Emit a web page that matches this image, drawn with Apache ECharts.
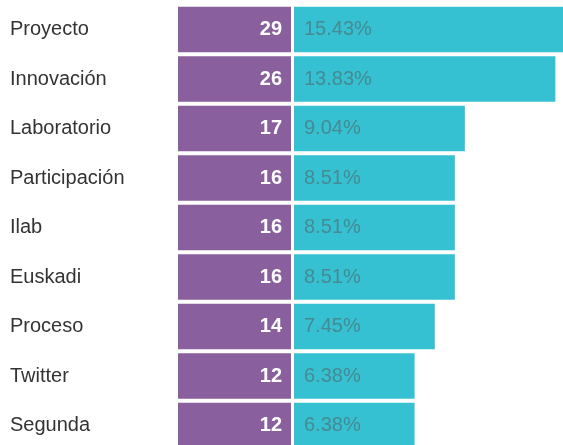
<!DOCTYPE html>
<html>
<head>
<meta charset="utf-8">
<script src="https://cdn.jsdelivr.net/npm/echarts@6/dist/echarts.min.js"></script>
<style>
  html, body { margin: 0; padding: 0; background: #fff; }
  #chart { width: 563px; height: 445px; }
</style>
</head>
<body>
<div id="chart"></div>
<script>
// palabras más frecuentes
const words = ['Proyecto', 'Innovación', 'Laboratorio', 'Participación', 'Ilab', 'Euskadi', 'Proceso', 'Twitter', 'Segunda'];
const counts = [29, 26, 17, 16, 16, 16, 14, 12, 12];
const percents = [15.43, 13.83, 9.04, 8.51, 8.51, 8.51, 7.45, 6.38, 6.38];

const PURPLE = '#8a5f9d';
const CYAN = '#36c1d3';
const FONT = '"Liberation Sans", Arial, sans-serif';

const chart = echarts.init(document.getElementById('chart'), null, { renderer: 'canvas' });

const rowTop = 4.75;
const rowH = 49.5 * words.length;

const option = {
  backgroundColor: '#fff',
  animation: false,
  grid: [
    // columna de conteos
    { left: 178, width: 113, top: rowTop, height: rowH, outerBoundsMode: 'none' },
    // columna de porcentajes (sale del lienzo por la derecha)
    { left: 294, width: 302.4, top: rowTop, height: rowH, outerBoundsMode: 'none' }
  ],
  xAxis: [
    { gridIndex: 0, type: 'value', min: 0, max: 1, show: false },
    { gridIndex: 1, type: 'value', min: 0, max: 16, show: false }
  ],
  yAxis: [
    {
      gridIndex: 0,
      type: 'category',
      data: words,
      inverse: true,
      axisLine: { show: false },
      axisTick: { show: false },
      axisLabel: {
        align: 'left',
        margin: 168,
        color: '#333',
        fontSize: 20,
        fontFamily: FONT
      }
    },
    {
      gridIndex: 1,
      type: 'category',
      data: words,
      inverse: true,
      show: false
    }
  ],
  series: [
    {
      type: 'bar',
      xAxisIndex: 0,
      yAxisIndex: 0,
      barWidth: 45.5,
      data: counts.map(c => ({ value: 1, count: c })),
      itemStyle: { color: PURPLE },
      label: {
        show: true,
        position: 'insideRight',
        distance: 9,
        color: '#fff',
        fontSize: 20,
        fontWeight: 'bold',
        fontFamily: FONT,
        formatter: p => p.data.count
      }
    },
    {
      type: 'bar',
      xAxisIndex: 1,
      yAxisIndex: 1,
      barWidth: 45.5,
      data: percents,
      itemStyle: { color: CYAN },
      label: {
        show: true,
        position: 'insideLeft',
        distance: 10,
        color: '#468a92',
        fontSize: 20,
        fontFamily: FONT,
        formatter: p => p.value.toFixed(2) + '%'
      }
    }
  ]
};

chart.setOption(option);
</script>
</body>
</html>
